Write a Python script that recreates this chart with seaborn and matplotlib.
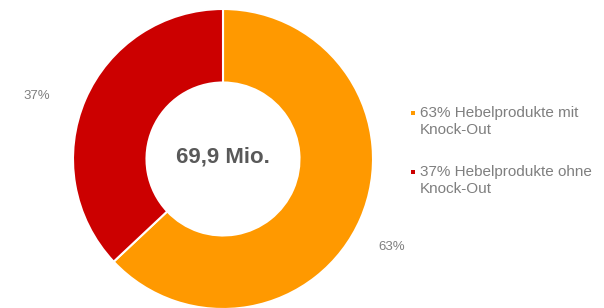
import matplotlib
matplotlib.use("Agg")
import matplotlib.pyplot as plt
from matplotlib.patches import Rectangle
import seaborn as sns

categories = ["Hebelprodukte mit\nKnock-Out", "Hebelprodukte ohne\nKnock-Out"]
values = [63, 37]
colors = ["#FF9900", "#CC0000"]
total_label = "69,9 Mio."

sns.set_style("white")
plt.rcParams["font.family"] = ["Liberation Sans", "DejaVu Sans"]

W, H = 604, 308
fig = plt.figure(figsize=(W / 100, H / 100), dpi=100)

def fx(px):
    return px / W

def fy(py):
    return 1 - py / H

# pie axes: center (223,159), radius 150 px
cx, cy, r = 223, 159, 150
ax = fig.add_axes([fx(cx - r), fy(cy + r), 2 * r / W, 2 * r / H])
wedges, _ = ax.pie(values, colors=colors, startangle=90, counterclock=False,
                   radius=1.0,
                   wedgeprops=dict(width=0.49, edgecolor="white", linewidth=1.5))
ax.set_xlim(-1, 1)
ax.set_ylim(-1, 1)
ax.set_aspect("equal")
ax.axis("off")
for w in wedges:
    w.set_clip_on(False)

ax.text(0, 0.01, total_label, ha="center", va="center", fontsize=16,
        fontweight="bold", color="#595959")

# percentage labels outside
pct_pos = [(392, 247), (37, 96)]
for v, (px, py) in zip(values, pct_pos):
    fig.text(fx(px), fy(py), f"{v}%", ha="center", va="center",
             fontsize=9.5, color="#7f7f7f")

# legend (manual, marker aligned with first line)
leg_x, leg_y0, leg_step, line_h = 420, 117, 59, 17
for i, (cat, v, c) in enumerate(zip(categories, values, colors)):
    by = leg_y0 + i * leg_step
    lines = f"{v}% {cat}".split("\n")
    for j, ln in enumerate(lines):
        fig.text(fx(leg_x), fy(by + j * line_h), ln, ha="left", va="baseline",
                 fontsize=11, color="#7f7f7f")
    s = 4
    fig.add_artist(Rectangle((fx(411), fy(by - 2)), s / W, s / H,
                             transform=fig.transFigure, facecolor=c,
                             edgecolor="none"))

fig.savefig("out.png", dpi=100)
